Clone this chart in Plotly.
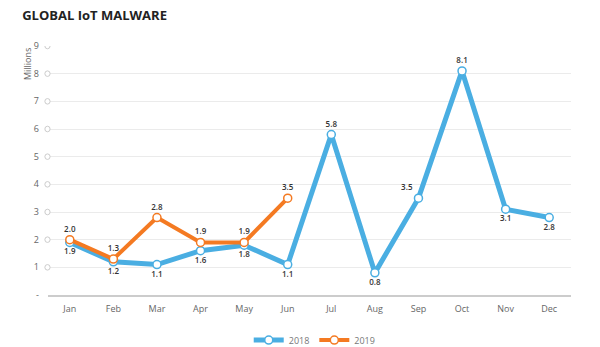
import plotly.graph_objects as go

months = ["Jan", "Feb", "Mar", "Apr", "May", "Jun", "Jul", "Aug", "Sep", "Oct", "Nov", "Dec"]
malware_2018 = [1.9, 1.2, 1.1, 1.6, 1.8, 1.1, 5.8, 0.8, 3.5, 8.1, 3.1, 2.8]
malware_2019 = [2.0, 1.3, 2.8, 1.9, 1.9, 3.5]
y_ticks = [0, 1, 2, 3, 4, 5, 6, 7, 8, 9]
y_tick_text = ["-", "1", "2", "3", "4", "5", "6", "7", "8", "9"]

pos_2018 = ["bottom center"] * 6 + ["top center", "bottom center", "top left", "top center", "bottom center", "bottom center"]
pos_2019 = ["top center"] * 6

BLUE = "#4AAEE2"
ORANGE = "#F47A22"
FONT = "Open Sans"

fig = go.Figure()
fig.add_trace(go.Scatter(
    x=months, y=malware_2018, name="2018", mode="lines+markers+text",
    line=dict(color=BLUE, width=5),
    marker=dict(size=8, color="white", line=dict(color=BLUE, width=1.5)),
    text=[f"{v:.1f}" for v in malware_2018], textposition=pos_2018,
    textfont=dict(size=8, color="#333", family=FONT, weight=600),
    cliponaxis=False,
))
fig.add_trace(go.Scatter(
    x=months[:len(malware_2019)], y=malware_2019, name="2019", mode="lines+markers+text",
    line=dict(color=ORANGE, width=4),
    marker=dict(size=8, color="white", line=dict(color=ORANGE, width=1.5)),
    text=[f"{v:.1f}" for v in malware_2019], textposition=pos_2019,
    textfont=dict(size=8, color="#333", family=FONT, weight=600),
    cliponaxis=False,
))

shapes = []
for t in y_ticks[1:]:
    shapes.append(dict(type="circle", xref="paper", yref="y",
                       x0=-0.006, x1=0.004, y0=t - 0.1, y1=t + 0.1,
                       line=dict(color="#cccccc", width=1), fillcolor="white"))

fig.update_layout(
    width=600, height=347,
    margin=dict(l=48, r=29, t=46, b=52),
    paper_bgcolor="white", plot_bgcolor="white",
    font=dict(family=FONT, color="#666"),
    title=dict(text="<b>GLOBAL IoT MALWARE</b>", x=0.037, xanchor="left", y=0.955, yanchor="middle",
               font=dict(size=13, color="#222", family=FONT)),
    xaxis=dict(range=[-0.5, len(months) - 0.5], showgrid=False, showline=True, linecolor="#cccccc", linewidth=2,
               tickfont=dict(size=9, color="#666"), ticks="", ticklabelstandoff=4, automargin=False),
    yaxis=dict(range=[0, 9], tickvals=y_ticks, ticktext=y_tick_text, showgrid=True,
               gridcolor="#ebebeb", gridwidth=1, zeroline=False, showline=False,
               tickfont=dict(size=9, color="#666"), ticklabelstandoff=8, automargin=False),
    legend=dict(orientation="h", x=0.51, xanchor="center", xref="paper",
                y=0.02, yanchor="middle", yref="container",
                font=dict(size=9, color="#777")),
    showlegend=True,
    shapes=shapes,
    annotations=[dict(text="Millions", textangle=-90, xref="paper", yref="paper",
                      x=-0.04, xanchor="center", y=1.0, yanchor="top", showarrow=False,
                      font=dict(size=9, color="#666"))],
)

fig.write_html("out.html")
